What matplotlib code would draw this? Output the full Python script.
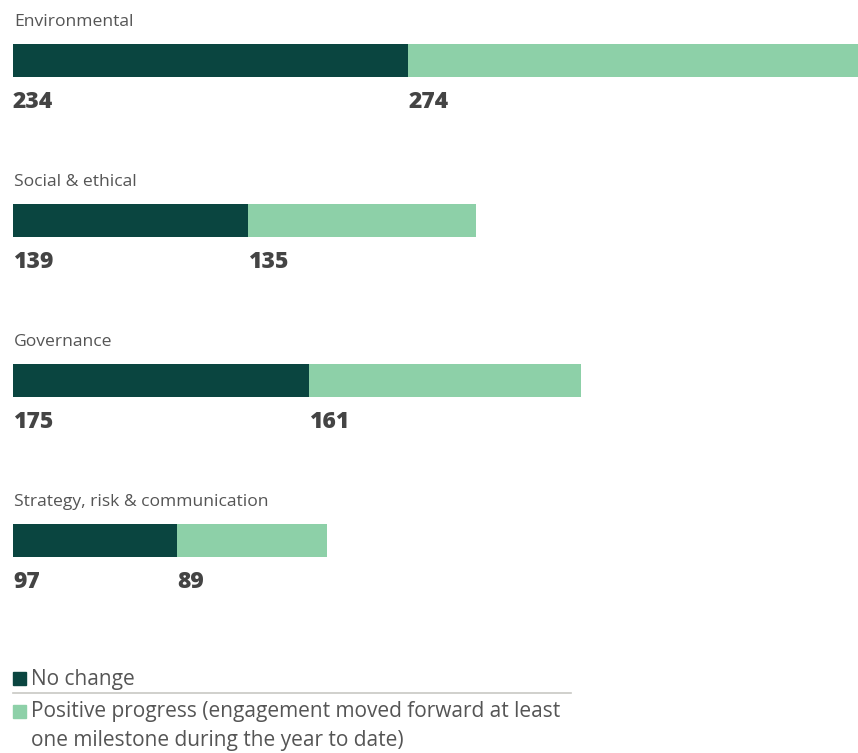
import matplotlib.pyplot as plt
from matplotlib.patches import Rectangle
from matplotlib.lines import Line2D

categories = ['Environmental', 'Social & ethical', 'Governance', 'Strategy, risk & communication']
no_change = [234, 139, 175, 97]
positive = [274, 135, 161, 89]
legend_labels = ['No change',
                 'Positive progress (engagement moved forward at least\none milestone during the year to date)']

dark = '#0a4540'
light = '#8dd0a8'
label_col = '#555555'
value_col = '#444444'

plt.rcParams['font.family'] = ['Open Sans', 'DejaVu Sans']

W, H = 858, 753
fig = plt.figure(figsize=(W / 100, H / 100), dpi=100)
# bar axes: x from pixel 13 to 858, y in pixels (top = 0)
ax = fig.add_axes([13 / W, 0, 1 - 13 / W, 1])
ax.set_xlim(0, 500)
ax.set_ylim(H, 0)
ax.axis('off')

for i, cat in enumerate(categories):
    yc = 60.5 + i * 160
    ax.barh(yc, no_change[i], height=33, color=dark, clip_on=True)
    ax.barh(yc, positive[i], left=no_change[i], height=33, color=light, clip_on=True)
    ax.text(0.5, yc - 38.5, cat, fontsize=12.6, color=label_col, va='center', ha='left')
    ax.text(0, yc + 41, str(no_change[i]), fontsize=16.5, fontweight='heavy',
            color=value_col, va='center', ha='left')
    ax.text(no_change[i], yc + 41, str(positive[i]), fontsize=16.5, fontweight='heavy',
            color=value_col, va='center', ha='left')

# legend drawn in figure pixel coords
def px(x, y):
    return x / W, 1 - y / H

fig.patches.append(Rectangle(px(13, 685), 13 / W, 13 / H, transform=fig.transFigure,
                             color=dark))
fig.text(*px(31, 679), legend_labels[0], fontsize=15, color=label_col, va='center')
fig.add_artist(Line2D([13 / W, 571 / W], [1 - 693 / H, 1 - 693 / H],
                      transform=fig.transFigure, color='#c8c8c4', lw=1.2))
fig.patches.append(Rectangle(px(13, 718), 13 / W, 13 / H, transform=fig.transFigure,
                             color=light))
fig.text(*px(31, 726), legend_labels[1], fontsize=15, color=label_col, va='center',
         linespacing=1.45)

fig.savefig('out.png', dpi=100, facecolor='white')
